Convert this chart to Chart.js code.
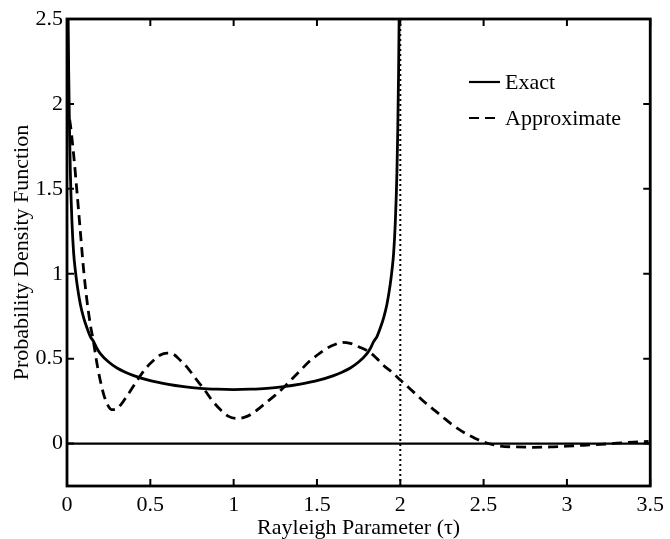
<!DOCTYPE html>
<html>
<head>
<meta charset="utf-8">
<script src="https://cdn.jsdelivr.net/npm/chart.js@4.4.1/dist/chart.umd.min.js"></script>
<style>
  html, body { margin: 0; padding: 0; background: #fff; }
  #wrap { width: 670px; height: 539px; }
</style>
</head>
<body>
<div id="wrap"><canvas id="pdf-chart"></canvas></div>
<script>
// valori
const exactTau = [0.004, 0.007, 0.01, 0.015, 0.02, 0.03, 0.04, 0.05, 0.06, 0.08, 0.1, 0.12, 0.14, 0.16, 0.18, 0.2, 0.25,
                  0.3, 0.35, 0.4, 0.5, 0.6, 0.7, 0.8, 0.9, 1.0, 1.1, 1.2, 1.3, 1.4, 1.5, 1.6, 1.65, 1.7, 1.75, 1.8, 1.82,
                  1.84, 1.86, 1.88, 1.9, 1.92, 1.94, 1.95, 1.96, 1.97, 1.98, 1.985, 1.99, 1.993, 1.996];
const exactPdf = [2.8, 2.5, 2.2, 1.85, 1.6, 1.3, 1.12, 1.02, 0.94, 0.82, 0.74, 0.68, 0.63, 0.6, 0.56, 0.53, 0.48,
                  0.445, 0.42, 0.4, 0.37, 0.35, 0.335, 0.325, 0.32, 0.318, 0.32, 0.325, 0.335, 0.35, 0.37, 0.4, 0.42,
                  0.445, 0.48, 0.53, 0.56, 0.6, 0.63, 0.68, 0.74, 0.82, 0.94, 1.02, 1.12, 1.3, 1.6, 1.85, 2.2, 2.5, 2.8];

const approxTau = [0, 0.02, 0.04, 0.06, 0.08, 0.1, 0.12, 0.14, 0.157, 0.18, 0.2, 0.22, 0.24, 0.267, 0.29, 0.32, 0.36,
                   0.4, 0.43, 0.47, 0.52, 0.56, 0.6, 0.64, 0.68, 0.72, 0.77, 0.826, 0.87, 0.92, 0.97, 1.025, 1.08, 1.13,
                   1.2, 1.25, 1.295, 1.35, 1.4, 1.45, 1.5, 1.55, 1.6, 1.654, 1.7, 1.75, 1.817, 1.86, 1.9, 1.95, 2.0,
                   2.05, 2.1, 2.15, 2.2, 2.25, 2.3, 2.35, 2.4, 2.45, 2.5, 2.55, 2.6, 2.7, 2.8, 2.9, 3.0, 3.1, 3.2, 3.3,
                   3.4, 3.49];
const approxPdf = [2.0, 1.88, 1.7, 1.48, 1.25, 1.02, 0.84, 0.7, 0.61, 0.47, 0.37, 0.29, 0.235, 0.2, 0.2, 0.225, 0.28,
                   0.34, 0.385, 0.44, 0.49, 0.522, 0.533, 0.525, 0.49, 0.45, 0.385, 0.315, 0.255, 0.2, 0.16, 0.148, 0.16,
                   0.19, 0.245, 0.285, 0.325, 0.38, 0.43, 0.48, 0.52, 0.555, 0.58, 0.596, 0.59, 0.57, 0.537, 0.5, 0.46,
                   0.42, 0.374, 0.33, 0.285, 0.24, 0.2, 0.16, 0.12, 0.085, 0.055, 0.03, 0.01, -0.005, -0.015, -0.02,
                   -0.022, -0.02, -0.015, -0.01, -0.005, 0.002, 0.008, 0.012];

const cutoffTau = 2;
const zeroLevel = 0;
const xTicks = [0, 0.5, 1, 1.5, 2, 2.5, 3, 3.5];
const yTicks = [0, 0.5, 1, 1.5, 2, 2.5];
const xRange = [0, 3.5];
const yRange = [-0.25, 2.5];

const FONT = "'Liberation Serif', 'Times New Roman', serif";

// cornice, tacche interne e linea dello zero (stile MATLAB)
const framePlugin = {
    id: 'frame',
    beforeDatasetsDraw(chart) {
        const { ctx, chartArea: a, scales: { y } } = chart;
        const y0 = y.getPixelForValue(zeroLevel);
        ctx.save();
        ctx.strokeStyle = '#000';
        ctx.lineWidth = 2.2;
        ctx.beginPath();
        ctx.moveTo(a.left, y0);
        ctx.lineTo(a.right, y0);
        ctx.stroke();
        ctx.restore();
    },
    afterDatasetsDraw(chart) {
        const { ctx, chartArea: a, scales: { x, y } } = chart;
        const len = 7;
        ctx.save();
        ctx.strokeStyle = '#000';
        ctx.lineWidth = 2;
        ctx.beginPath();
        xTicks.forEach(v => {
            const px = x.getPixelForValue(v);
            ctx.moveTo(px, a.bottom); ctx.lineTo(px, a.bottom - len);
            ctx.moveTo(px, a.top); ctx.lineTo(px, a.top + len);
        });
        yTicks.forEach(v => {
            const py = y.getPixelForValue(v);
            ctx.moveTo(a.left, py); ctx.lineTo(a.left + len, py);
            ctx.moveTo(a.right, py); ctx.lineTo(a.right - len, py);
        });
        ctx.stroke();
        ctx.lineWidth = 2.8;
        ctx.strokeRect(a.left, a.top, a.right - a.left, a.bottom - a.top);
        ctx.restore();
    },
    afterDraw(chart) {
        // legenda interna in alto a destra
        const { ctx, chartArea: a } = chart;
        const items = chart.data.datasets.filter(d => d.label);
        ctx.save();
        ctx.font = '22px ' + FONT;
        ctx.fillStyle = '#000';
        ctx.textBaseline = 'middle';
        items.forEach((d, i) => {
            const yy = a.top + 63 + i * 36;
            const x0 = a.left + 402;
            ctx.strokeStyle = '#000';
            ctx.lineWidth = 2.2;
            ctx.setLineDash(d.borderDash || []);
            ctx.beginPath();
            ctx.moveTo(x0, yy);
            ctx.lineTo(x0 + 31, yy);
            ctx.stroke();
            ctx.setLineDash([]);
            ctx.fillText(d.label, x0 + 36, yy + 1);
        });
        ctx.restore();
    }
};

new Chart(document.getElementById('pdf-chart'), {
    type: 'line',
    data: {
        datasets: [
            {
                label: 'Exact',
                data: exactTau.map((t, i) => ({ x: t, y: exactPdf[i] })),
                borderColor: '#000',
                borderWidth: 2.8,
                pointRadius: 0,
                cubicInterpolationMode: 'monotone',
                clip: 0,
            },
            {
                label: 'Approximate',
                data: approxTau.map((t, i) => ({ x: t, y: approxPdf[i] })),
                borderColor: '#000',
                borderWidth: 2.8,
                borderDash: [10, 6],
                pointRadius: 0,
                cubicInterpolationMode: 'monotone',
                clip: 0,
            },
            {
                label: '',
                data: [{ x: cutoffTau, y: yRange[0] }, { x: cutoffTau, y: yRange[1] }],
                borderColor: '#000',
                borderWidth: 2,
                borderDash: [2, 3],
                pointRadius: 0,
            },
        ],
    },
    options: {
        responsive: true,
        maintainAspectRatio: false,
        animation: false,
        layout: { padding: { top: 19, right: 18, left: 0, bottom: 0 } },
        plugins: { legend: { display: false }, tooltip: { enabled: false } },
        scales: {
            x: {
                type: 'linear',
                min: xRange[0],
                max: xRange[1],
                afterBuildTicks: s => { s.ticks = xTicks.map(v => ({ value: v })); },
                afterFit: s => { s.height = 53; },
                border: { display: false },
                grid: { display: false, drawTicks: false },
                ticks: { color: '#000', padding: 6, font: { family: FONT, size: 22 }, maxRotation: 0, callback: v => String(v) },
                title: {
                    display: true,
                    text: 'Rayleigh Parameter (τ)',
                    color: '#000',
                    font: { family: FONT, size: 22, lineHeight: 1 },
                    padding: 0,
                },
            },
            y: {
                type: 'linear',
                min: yRange[0],
                max: yRange[1],
                afterBuildTicks: s => { s.ticks = yTicks.map(v => ({ value: v })); },
                afterFit: s => { s.width = 67; },
                border: { display: false },
                grid: { display: false, drawTicks: false },
                ticks: { color: '#000', padding: 4, font: { family: FONT, size: 22 }, callback: v => String(v) },
                title: {
                    display: true,
                    text: 'Probability Density Function',
                    color: '#000',
                    font: { family: FONT, size: 22, lineHeight: 1 },
                    padding: { top: 11, bottom: 0 },
                },
            },
        },
    },
    plugins: [framePlugin],
});
</script>
</body>
</html>
